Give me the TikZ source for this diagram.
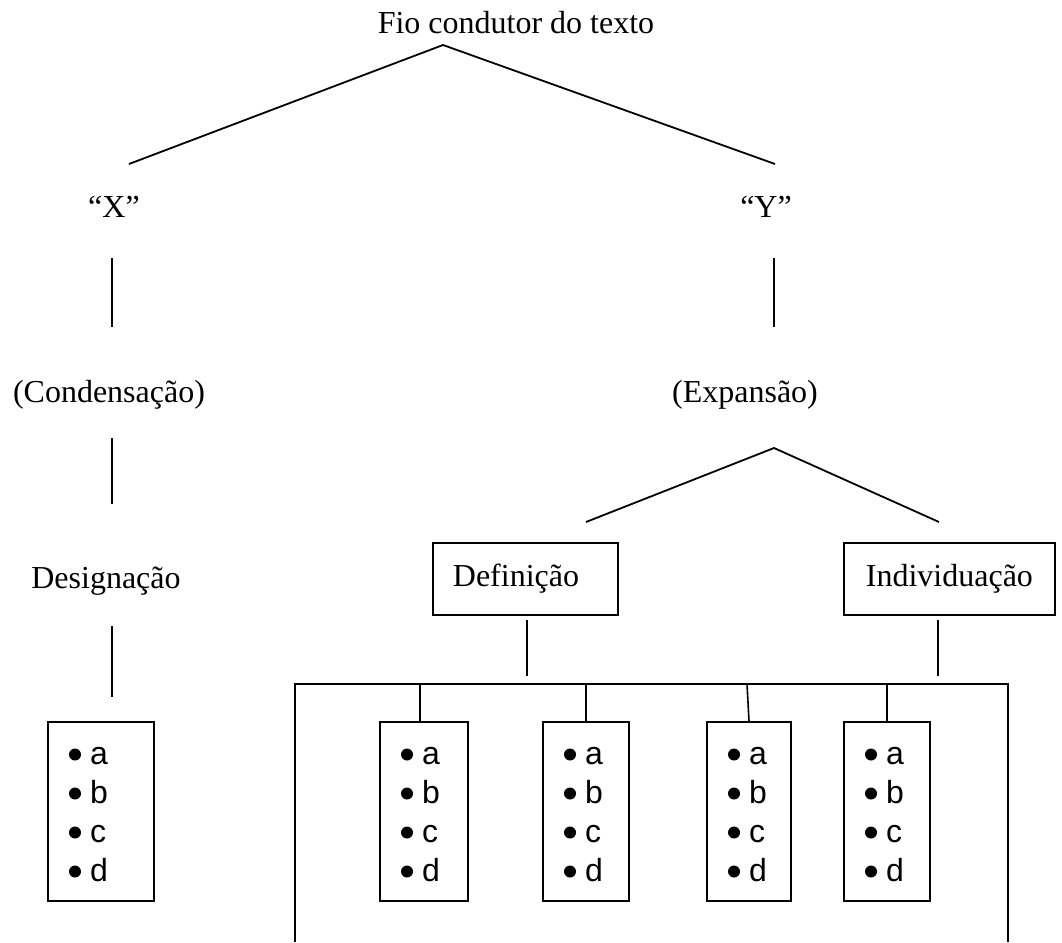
\documentclass[tikz,border=0pt]{standalone}
\usepackage{fontspec}
\setmainfont{Liberation Serif}
\newfontfamily\arialf{Liberation Sans}
\usetikzlibrary{calc}
\tikzset{
  ln/.style={line width=1.8pt, line cap=butt},
  txt/.style={inner sep=0pt, font=\fontsize{32}{38}\selectfont},
  labbox/.style={draw, line width=1.8pt, inner xsep=20pt, inner ysep=0pt, minimum height=72pt, font=\fontsize{32}{38}\selectfont, anchor=north west},
  listbox/.style={draw, line width=1.8pt, inner sep=0pt, minimum height=179pt, anchor=north west},
  item/.style={inner sep=0pt, font=\arialf\fontsize{32}{36}\selectfont, anchor=base west},
}
\begin{document}
\begin{tikzpicture}[x=1pt,y=-1pt]
\useasboundingbox (0,0) rectangle (1062,942);
% top level
\node[txt, anchor=base] (title) at (516,34) {Fio condutor do texto};
\coordinate (apex) at (443,45);
\coordinate (lx) at (129,164);
\coordinate (rx) at (775,164);
\draw[ln] (lx) -- (apex) -- (rx);
\node[txt, anchor=base] (X) at (114,217) {“X”};
\node[txt, anchor=base] (Y) at (766,217) {“Y”};
\coordinate (x1a) at (112,258); \coordinate (x1b) at (112,327);
\coordinate (y1a) at (774,258); \coordinate (y1b) at (774,327);
\draw[ln] (x1a) -- (x1b);
\draw[ln] (y1a) -- (y1b);
\node[txt, anchor=base] (cond) at (109,402) {(Condensação)};
\node[txt, anchor=base] (exp) at (745,402) {(Expansão)};
% left chain
\coordinate (x2a) at (112,438); \coordinate (x2b) at (112,504);
\draw[ln] (x2a) -- (x2b);
\node[txt, anchor=base] (desig) at (106,588) {Designação};
\coordinate (x3a) at (112,626); \coordinate (x3b) at (112,697);
\draw[ln] (x3a) -- (x3b);
% expansion fork
\coordinate (eapex) at (774,448);
\coordinate (el) at (586,522);
\coordinate (er) at (939,522);
\draw[ln] (el) -- (eapex) -- (er);
\node[labbox, text width=145pt, align=left] (def) at (432,542) {Definição};
\node[labbox, text width=171pt, align=center] (ind) at (843,542) {Individuação};
\coordinate (d1) at (527,620); \coordinate (d2) at (527,676);
\coordinate (i1) at (938,620); \coordinate (i2) at (938,676);
\draw[ln] (d1) -- (d2);
\draw[ln] (i1) -- (i2);
% bracket
\coordinate (bl) at (295,942); \coordinate (btl) at (295,684);
\coordinate (btr) at (1008,684); \coordinate (br) at (1008,942);
\draw[ln, line width=1.6pt] (bl) -- (btl) -- (btr) -- (br);
% list boxes
\node[listbox, minimum width=106pt] (b0) at (47,721) {};
\node[listbox, minimum width=88pt] (b1) at (379,721) {};
\node[listbox, minimum width=86pt] (b2) at (542,721) {};
\node[listbox, minimum width=84pt] (b3) at (706,721) {};
\node[listbox, minimum width=86pt] (b4) at (843,721) {};
% connectors from bracket to boxes
\coordinate (c1) at (420,684); \coordinate (c2) at (586,684);
\coordinate (c3) at (747,684); \coordinate (c4) at (887,684);
\draw[ln, line width=1.6pt] (c1) -- (c1 |- b1.north);
\draw[ln, line width=1.6pt] (c2) -- (c2 |- b2.north);
\draw[ln, line width=1.6pt] (c3) -- (749,721);
\draw[ln, line width=1.6pt] (c4) -- (c4 |- b4.north);
% items
\foreach \bx/\bn in {47/b0,379/b1,542/b2,706/b3,843/b4}{
  \foreach \l [count=\i] in {a,b,c,d}{
    \fill (\bx+28, 754.5+39*\i-39) circle (6pt);
    \node[item] (\bn-\l) at (\bx+43, 764+39*\i-39) {\l};
  }
}
\end{tikzpicture}
\end{document}
